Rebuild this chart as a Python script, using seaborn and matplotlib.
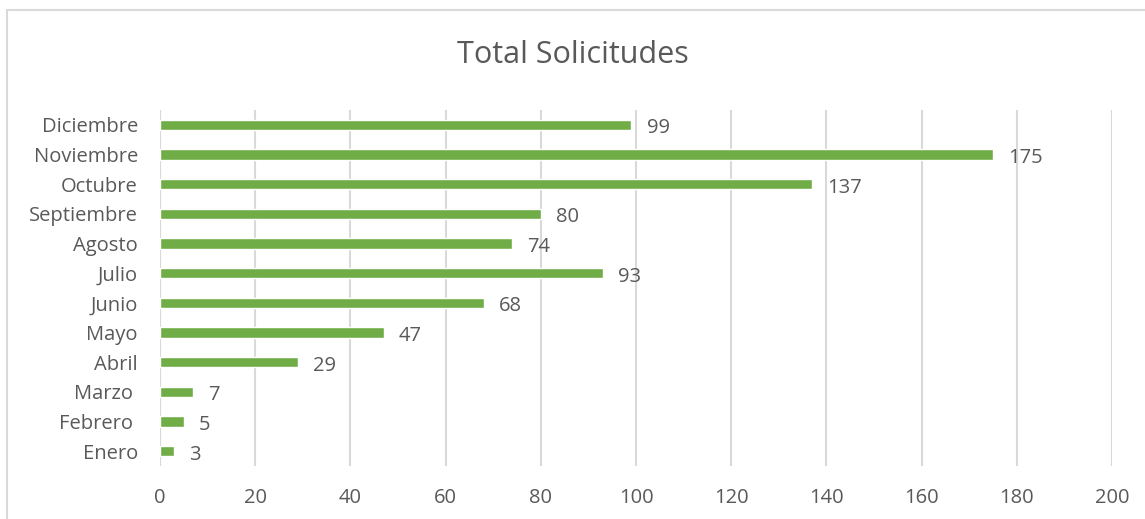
import pandas as pd
import matplotlib.pyplot as plt
import seaborn as sns
from matplotlib.patches import Rectangle

# Data
months = ['Enero', 'Febrero ', 'Marzo ', 'Abril', 'Mayo', 'Junio', 'Julio',
          'Agosto', 'Septiembre', 'Octubre', 'Noviembre', 'Diciembre']
requests = [3, 5, 7, 29, 47, 68, 93, 74, 80, 137, 175, 99]
x_ticks = [0, 20, 40, 60, 80, 100, 120, 140, 160, 180, 200]

df = pd.DataFrame({'Mes': months, 'Solicitudes': requests})

sns.set_style('white')
plt.rcParams['font.family'] = ['Open Sans', 'DejaVu Sans']
text_color = '#595959'

fig = plt.figure(figsize=(11.45, 5.19), dpi=100)
ax = fig.add_axes([160 / 1145, 1 - 466 / 519, 952 / 1145, 356 / 519])

sns.barplot(data=df, x='Solicitudes', y='Mes', order=months[::-1],
            color='#70AD47', saturation=1, width=0.34, ax=ax)

ax.set_xlim(0, 200)
ax.set_xticks(x_ticks)
ax.xaxis.grid(True, color='#D9D9D9', linewidth=1.5)
ax.set_axisbelow(True)
for s in ax.spines.values():
    s.set_visible(False)
ax.axvline(0, color='#D9D9D9', linewidth=1.5, zorder=0)
ax.tick_params(axis='both', length=0, labelsize=14.5, colors=text_color)
ax.tick_params(axis='x', pad=16)
ax.tick_params(axis='y', pad=16)
ax.set_xlabel('')
ax.set_ylabel('')

for container in ax.containers:
    labels = ax.bar_label(container, padding=11, fontsize=14.5, color=text_color)
    # nudge value labels a little below the bar centre, as in the original
    for t in labels:
        dx, dy = t.xyann
        t.xyann = (dx, dy - 2.5)

fig.text(0.5, 1 - 55 / 519, 'Total Solicitudes', ha='center', va='center',
         fontsize=22, color=text_color)

# chart border
fig.patches.append(Rectangle((7 / 1145, -0.1), 1.2, 1 - 10 / 519 + 0.1,
                             transform=fig.transFigure, fill=False,
                             edgecolor='#D9D9D9', linewidth=1.5))

plt.savefig('out.png', dpi=100)
